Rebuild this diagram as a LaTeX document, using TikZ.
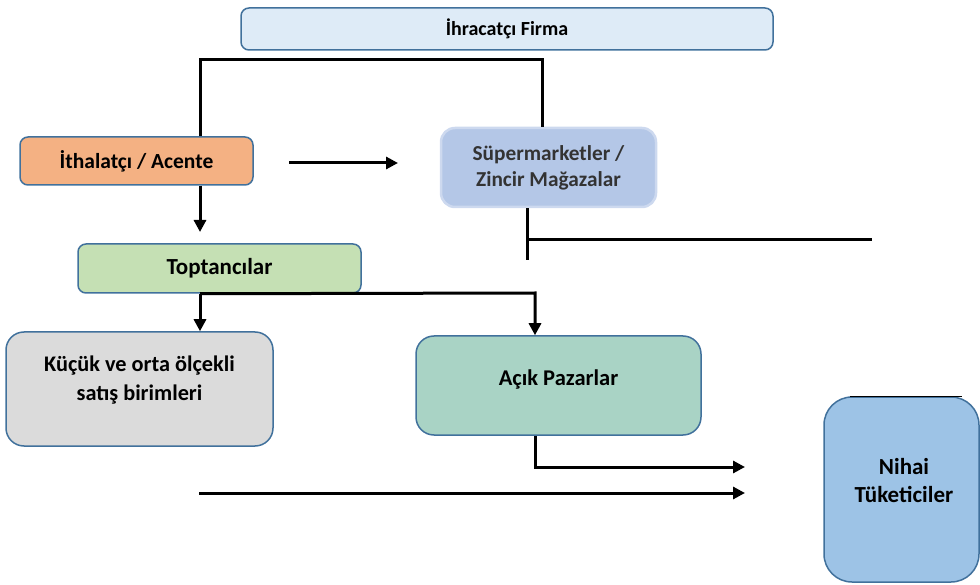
\documentclass[tikz,border=0pt]{standalone}
\usepackage{fontspec}
\setmainfont{Carlito}
\usetikzlibrary{arrows.meta}

\newlength{\du}
\setlength{\du}{1pt}

\definecolor{kenarmavi}{HTML}{41719C}
\definecolor{firmarenk}{HTML}{DEEBF7}
\definecolor{ithalrenk}{HTML}{F4B183}
\definecolor{marketrenk}{HTML}{B4C7E7}
\definecolor{marketkenar}{HTML}{CDD9EF}
\definecolor{toptanrenk}{HTML}{C5E0B4}
\definecolor{kucukrenk}{HTML}{DBDBDB}
\definecolor{acikrenk}{HTML}{A9D3C5}
\definecolor{nihairenk}{HTML}{9DC3E6}

\tikzset{
  kutu/.style={draw=kenarmavi, line width=1.5\du, rounded corners=8\du,
    align=center, inner sep=0pt, font=\fontsize{22.5}{27}\selectfont\bfseries},
  yazi/.style={align=center, inner sep=0pt},
  hat/.style={line width=3\du},
  ok/.style={hat, -{Triangle[length=12pt,width=12pt]}}
}

\begin{document}
\begin{tikzpicture}
\pgftransformyscale{-1.000000}
\useasboundingbox (0\du,0\du) rectangle (980\du,585\du);
% kutular
\node[kutu, fill=firmarenk, font=\fontsize{20}{24}\selectfont\bfseries, minimum width=532\du, minimum height=42\du] (firma) at (507\du,29\du) {İhracatçı Firma};
\node[kutu, fill=ithalrenk, font=\fontsize{21.5}{26}\selectfont\bfseries, minimum width=233\du, minimum height=48\du] (ithal) at (136.5\du,161\du) {İthalatçı / Acente};
\node[kutu, fill=marketrenk, draw=marketkenar, line width=2.5\du, rounded corners=14\du, text=black!80,
  font=\fontsize{21.3}{26}\selectfont\bfseries, minimum width=215\du, minimum height=79\du] (market) at (548.5\du,167.5\du) {Süpermarketler /\\Zincir Mağazalar};
\node[kutu, fill=toptanrenk, font=\fontsize{23}{28}\selectfont\bfseries, minimum width=283\du, minimum height=49\du] (toptan) at (219.5\du,268.5\du) {Toptancılar};
\node[kutu, fill=kucukrenk, rounded corners=18\du, minimum width=267\du, minimum height=114\du] (kucuk) at (139.5\du,389\du) {};
\node[yazi, font=\fontsize{22.3}{29}\selectfont\bfseries] (kucukyazi) at (139.5\du,380\du) {Küçük ve orta ölçekli\\satış birimleri};
\node[kutu, fill=acikrenk, rounded corners=18\du, minimum width=285\du, minimum height=99\du] (acik) at (558.5\du,385.5\du) {};
\node[yazi, font=\fontsize{22.5}{27}\selectfont\bfseries] (acikyazi) at (558.5\du,379\du) {Açık Pazarlar};
\node[kutu, fill=nihairenk, rounded corners=28\du, minimum width=155\du, minimum height=185\du] (nihai) at (901.5\du,489.5\du) {};
\node[yazi, font=\fontsize{23}{28}\selectfont\bfseries] (nihaiyazi) at (904\du,481\du) {Nihai\\Tüketiciler};
% serbest uclar
\coordinate (ustsol) at (200\du,60\du);
\coordinate (ustsag) at (542\du,60\du);
\coordinate (toptanok) at (200\du,232\du);
\coordinate (yanbas) at (289\du,163\du);
\coordinate (yanson) at (398\du,163\du);
\coordinate (marketalt) at (527\du,260\du);
\coordinate (marketyan) at (872\du,240\du);
\coordinate (acikust) at (535\du,293\du);
\coordinate (nihaiok1) at (745\du,467\du);
\coordinate (altbas) at (199\du,493\du);
\coordinate (nihaiok2) at (745\du,493\du);
% baglantilar
\draw[hat] (ithal.north -| ustsol) -- (ustsol) -- (ustsag) -- (ustsag |- market.north);
\draw[ok] (ithal.south -| ustsol) -- (toptanok);
\draw[ok] (yanbas) -- (yanson);
\draw[hat] (market.south -| marketalt) -- (marketalt);
\draw[hat] (marketalt |- marketyan) -- (marketyan);
\draw[ok] (toptan.south -| ustsol) -- (kucuk.north -| ustsol);
\draw[ok] (toptan.south -| ustsol) -- (acikust) -- (acik.north -| acikust);
\draw[ok] (acik.south -| acikust) |- (nihaiok1);
\draw[ok] (altbas) -- (nihaiok2);
\draw[line width=1.5\du] ([xshift=27\du]nihai.north west) -- ([xshift=-18\du]nihai.north east);
\end{tikzpicture}
\end{document}
